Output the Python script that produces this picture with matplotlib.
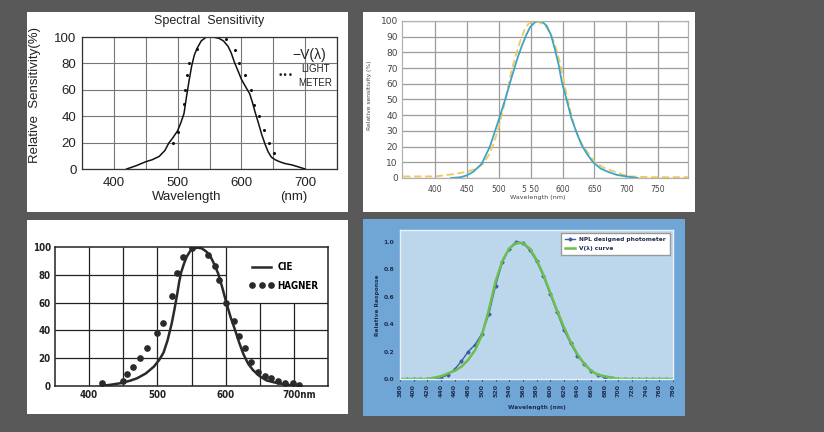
import numpy as np
import matplotlib.pyplot as plt
from matplotlib.patches import Rectangle

W, H = 824, 432

# ---- panel 1 : Spectral Sensitivity (V(lambda) vs light meter)
p1_nm = [420, 435, 450, 460, 471, 480, 486, 493, 500, 505, 510, 514, 518, 522, 526,
         530, 537, 545, 555, 565, 572, 579, 584, 589, 595, 600, 607, 613, 617, 621,
         626, 632, 637, 642, 647, 653, 660, 668, 680, 690, 700]
p1_v = [0, 2.5, 5.5, 7, 9.5, 14, 19.5, 24, 29, 35, 42, 55, 67, 78, 86,
        91, 97, 100, 100, 99, 97, 93, 88, 81, 74, 68, 62, 57, 51, 44,
        36, 26, 19, 13, 9, 7, 5.5, 4.2, 3, 1.5, 0]
p1_meter_nm = [492, 500, 510.5, 512, 514, 518, 530, 576, 589.5, 597, 605, 615, 620,
               627, 636, 643, 651.6]
p1_meter_v = [20, 28, 49, 60, 71, 80, 91, 98.5, 90, 80, 71, 60, 48.6,
              40, 29.6, 20, 12.4]

# ---- panel 2 : relative sensitivity (%)
p2_blue_nm = [425, 440, 450, 460, 473, 486, 499, 510, 520, 529, 536, 543, 549, 556,
              562, 568, 575, 582, 588, 594, 599, 607, 614, 622, 630, 639, 648, 660,
              671, 685, 700, 718]
p2_blue_v = [0, 0.5, 1.7, 4, 9, 20, 36, 50, 64, 76, 84, 91, 96, 99,
             100, 99.5, 97, 91, 82, 72, 61, 49, 38, 29, 21, 15, 10, 6,
             4, 2, 1, 0]
p2_yel_nm = [350, 400, 430, 450, 465, 475, 485, 491, 499, 507, 514, 521, 528, 535,
             541, 546, 552, 559, 567, 575, 582, 588, 595, 601, 607, 614, 620, 630,
             640, 651, 665, 682, 695, 708, 740, 797]
p2_yel_v = [1, 1, 2.5, 4, 6, 9, 15, 21, 31, 44, 57, 70, 80, 89,
            95, 98, 99.5, 100, 98.5, 96, 91, 85, 75, 64, 52, 40, 31, 22,
            16, 10, 6.5, 4, 2, 1, 0.5, 0.5]
p2_ticks = [400, 450, 500, 550, 600, 650, 700, 750]
p2_labels = ["400", "450", "500", "5 50", "600", "650", "700", "750"]

# ---- panel 3 : CIE vs HAGNER
p3_cie_nm = [417, 430, 446, 460, 470, 483, 495, 503, 509, 515, 521, 525, 529, 532,
             535, 539, 543, 548, 553, 559, 565, 571, 577, 583, 589, 595, 601, 607,
             614, 620, 626, 633, 640, 650, 660, 672, 684, 696, 708]
p3_cie_v = [0, 0.8, 2, 3.8, 5.5, 9, 14, 19, 24, 33, 45, 55, 66, 75,
            82, 88, 93, 97, 99, 99.5, 99, 97, 94, 88, 81, 71, 60, 50,
            40, 31, 23, 16, 11.5, 7, 4, 2.5, 1.4, 0.6, 0]
p3_hag_nm = [419, 449, 456, 465, 474, 485, 499, 508, 521, 529, 538, 551, 574, 584,
             590, 601, 612, 619, 628, 637, 648, 657, 667, 677, 687, 698, 708]
p3_hag_v = [2, 3.6, 8.6, 14, 20, 27.5, 38, 45, 65, 81, 93, 99, 94.5, 86,
            76, 60, 47, 36, 27, 17, 10, 7, 5.5, 3.6, 2.4, 2, 0.7]

# ---- panel 4 : NPL photometer vs V(lambda)
p4_nm = [380, 390, 400, 410, 420, 430, 440, 450, 460, 470, 480, 490, 500, 510,
         520, 530, 540, 550, 560, 570, 580, 590, 600, 610, 620, 630, 640, 650,
         660, 670, 680, 690, 700, 710, 720, 730, 740, 750, 760, 770, 780]
p4_vlam = [0, 0, 0, 0, 0, 0.01, 0.02, 0.04, 0.06, 0.09, 0.14, 0.21, 0.32, 0.50,
           0.71, 0.86, 0.95, 0.99, 0.99, 0.95, 0.87, 0.76, 0.63, 0.50, 0.38, 0.27, 0.18, 0.11,
           0.06, 0.03, 0.02, 0.01, 0, 0, 0, 0, 0, 0, 0, 0, 0]
p4_npl = [0, 0, 0, 0, 0, 0, 0.01, 0.03, 0.07, 0.13, 0.20, 0.25, 0.33, 0.47,
          0.68, 0.85, 0.95, 1.00, 0.99, 0.94, 0.86, 0.75, 0.62, 0.49, 0.36, 0.26, 0.17, 0.11,
          0.06, 0.03, 0.01, 0.01, 0, 0, 0, 0, 0, 0, 0, 0, 0]


def rect(x0, y0, x1, y1):
    return [x0 / W, 1 - y1 / H, (x1 - x0) / W, (y1 - y0) / H]


def bg(x0, y0, x1, y1, color):
    fig.add_artist(Rectangle((x0 / W, 1 - y1 / H), (x1 - x0) / W, (y1 - y0) / H,
                             transform=fig.transFigure, facecolor=color,
                             edgecolor='none', zorder=0))


def ftxt(x, y, s, **kw):
    fig.text(x / W, 1 - y / H, s, ha='center', va='center', **kw)


fig = plt.figure(figsize=(8.24, 4.32), dpi=100, facecolor='#595959')

bg(27, 12, 348, 212, 'white')
bg(363, 12, 695, 212, 'white')
bg(27, 220, 348, 414, 'white')
bg(363, 219, 685, 416, '#6fa6d6')

# ================= panel 1
arial = 'Liberation Sans'
ax1 = fig.add_axes(rect(82, 37, 337, 169))
ax1.plot(p1_nm, p1_v, color='#111111', lw=1.1)
ax1.plot(p1_meter_nm, p1_meter_v, ls='none', marker='o', ms=1.2, color='#111111')
ax1.set_xlim(350, 750)
ax1.set_ylim(0, 100)
ax1.set_xticks([400, 500, 600, 700])
ax1.set_xticks(np.arange(350, 751, 50), minor=True)
ax1.set_yticks(np.arange(0, 101, 20))
ax1.grid(True, which='both', color='#777777', lw=0.8)
ax1.tick_params(length=0, which='both', labelsize=9.5)
ax1.tick_params(axis='y', pad=4)
ax1.tick_params(axis='x', pad=6)
for lab in ax1.get_xticklabels() + ax1.get_yticklabels():
    lab.set_fontfamily(arial)
    lab.set_color('#222222')
for s in ax1.spines.values():
    s.set_color('#333333')
    s.set_linewidth(0.9)
ax1.text(706, 86, '\u2212V(\u03bb)', ha='center', va='center', fontsize=10,
         family=arial, color='#222222')
ax1.text(669, 71, '\u2022\u2022\u2022', ha='center', va='center', fontsize=6.5,
         color='#222222')
ax1.text(716, 76, 'LIGHT', ha='center', va='center', fontsize=7, family=arial, color='#222222')
ax1.text(716, 65, 'METER', ha='center', va='center', fontsize=7, family=arial, color='#222222')
ftxt(209, 21, 'Spectral  Sensitivity', fontsize=9, family=arial, color='#222222')
ftxt(35, 95, 'Relative  Sensitivity(%)', fontsize=9.5, family=arial, rotation=90, color='#222222')
ftxt(187, 197, 'Wavelength', fontsize=9.5, family=arial, color='#222222')
ftxt(294, 197, '(nm)', fontsize=9.5, family=arial, color='#222222')

# ================= panel 2
ax2 = fig.add_axes(rect(402, 21, 688, 178))
ax2.plot(p2_yel_nm, p2_yel_v, color='#f3c75a', lw=1.3, ls=(0, (4, 2)))
ax2.plot(p2_blue_nm, p2_blue_v, color='#3aa5c8', lw=1.3)
ax2.set_xlim(348, 797)
ax2.set_ylim(0, 100)
ax2.set_xticks(p2_ticks)
ax2.set_xticklabels(p2_labels)
ax2.set_yticks(np.arange(0, 101, 10))
ax2.grid(True, color='#9c9c9c', lw=0.9)
ax2.tick_params(length=0, colors='#444444')
ax2.tick_params(axis='y', pad=3, labelsize=6.5)
ax2.tick_params(axis='x', pad=5, labelsize=5.5)
for s in ax2.spines.values():
    s.set_color('#b0b0b0')
    s.set_linewidth(0.9)
ftxt(370, 95, 'Relative sensitivity (%)', fontsize=4.3, rotation=90, color='#444444')
ftxt(538, 198, 'Wavelength (nm)', fontsize=4.6, color='#444444')

# ================= panel 3
narrow = ['Liberation Sans Narrow', 'DejaVu Sans']
ax3 = fig.add_axes(rect(55, 247, 328, 386))
ax3.vlines([400, 450, 500, 550, 600], 0, 100, color='#222222', lw=0.9)
ax3.vlines([650, 700], 0, 60, color='#222222', lw=0.9)
ax3.hlines([20, 40, 60], 350, 750, color='#222222', lw=0.9)
ax3.hlines([80], 350, 600, color='#222222', lw=0.9)
ax3.plot(p3_cie_nm, p3_cie_v, color='#2a2a2a', lw=1.8, label='CIE')
ax3.plot(p3_hag_nm, p3_hag_v, ls='none', marker='o', ms=3.8, color='#2a2a2a',
         label='HAGNER')
ax3.set_xlim(350, 750)
ax3.set_ylim(0, 100)
ax3.set_xticks([400, 500, 600, 708])
ax3.set_xticklabels(['400', '500', '600', '700nm'])
ax3.set_yticks(np.arange(0, 101, 20))
ax3.tick_params(length=0, labelsize=7, pad=3, colors='#222222')
for lab in ax3.get_xticklabels() + ax3.get_yticklabels():
    lab.set_fontfamily(narrow)
    lab.set_fontweight('bold')
    lab.set_fontstretch('condensed')
for s in ax3.spines.values():
    s.set_color('#222222')
    s.set_linewidth(1.1)
ax3.legend(loc='upper left', bbox_to_anchor=(249 / W, 1 - 262 / H),
           bbox_transform=fig.transFigure, frameon=False, numpoints=3,
           handlelength=2.6, handletextpad=0.3, labelspacing=0.9,
           borderpad=0, borderaxespad=0,
           prop={'family': narrow, 'weight': 'bold', 'size': 7,
                 'stretch': 'condensed'})

# ================= panel 4
navy = '#1e2f4f'
ax4 = fig.add_axes(rect(400, 230, 673, 379))
ax4.set_facecolor('#bcd6ec')
ax4.plot(p4_nm, p4_npl, color='#3d5ea6', lw=1.0, marker='D', ms=1.6,
         label='NPL designed photometer')
ax4.plot(p4_nm, p4_vlam, color='#6cbf4c', lw=1.8, label='V(\u03bb) curve')
ax4.set_xlim(380, 780)
ax4.set_ylim(0, 1.085)
ax4.set_xticks(np.arange(380, 781, 20))
ax4.set_yticks(np.arange(0, 1.01, 0.2))
ax4.set_yticklabels(['0.0', '0.2', '0.4', '0.6', '0.8', '1.0'])
ax4.tick_params(axis='x', rotation=90, labelsize=4.5, pad=2, length=1.5, colors=navy)
ax4.tick_params(axis='y', labelsize=4.3, pad=4, length=0, colors=navy)
for lab in ax4.get_xticklabels() + ax4.get_yticklabels():
    lab.set_fontweight('bold')
for s in ax4.spines.values():
    s.set_color('#e8f0f8')
    s.set_linewidth(1.0)
ax4.legend(loc='upper right', frameon=True, fancybox=False,
           edgecolor='#999999', framealpha=1, borderpad=0.7, labelspacing=0.6,
           handlelength=1.6, borderaxespad=0.5,
           prop={'weight': 'bold', 'size': 4.2})
for t in ax4.get_legend().get_texts():
    t.set_color(navy)
ftxt(377, 305, 'Relative Response', fontsize=4.2, rotation=90, color=navy, weight='bold')
ftxt(537, 408, 'Wavelength (nm)', fontsize=4.2, color=navy, weight='bold')

fig.savefig('out.png', dpi=100, facecolor=fig.get_facecolor())
